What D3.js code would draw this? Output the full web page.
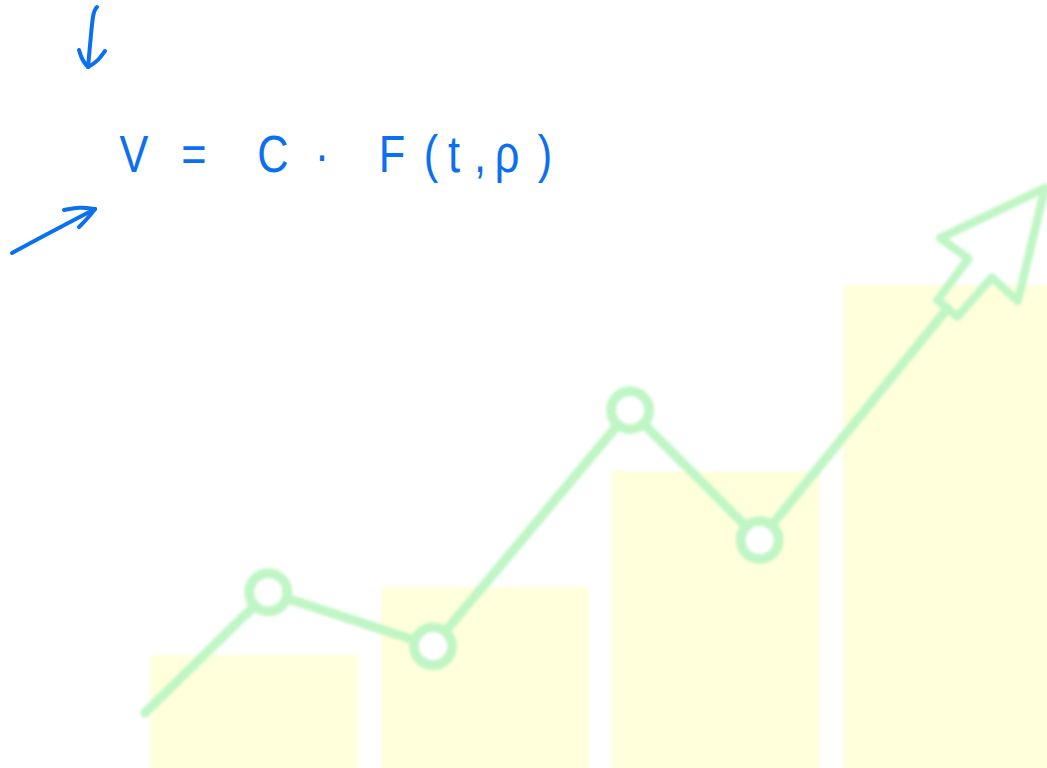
<!DOCTYPE html>
<html>
<head>
<meta charset="utf-8">
<script src="https://cdn.jsdelivr.net/npm/d3@7"></script>
<style>
  html, body { margin: 0; padding: 0; background: #ffffff; }
  svg { display: block; }
</style>
</head>
<body>
<script>
// Growth illustration: four rising bars, a trend line with markers and an arrowhead,
// and a handwritten formula above it.
const width = 1047, height = 768;

const categories = ["Q1", "Q2", "Q3", "Q4"];
const barValues = [19.5, 31.2, 51.2, 83.3];

// trend line: position along the horizontal axis and level
const trendX = [0, 1.37, 3.2, 5.39, 6.83, 10];
const trendY = [9.5, 30.3, 21.0, 61.7, 39.3, 100];

const formulaChars = ["V", "=", "C", "·", "F", "(", "t", ",", "ρ", ")"];
const formulaPos = [134, 194, 273, 322, 392, 431, 454, 480, 507, 545];

const svg = d3.select("body").append("svg")
  .attr("width", width).attr("height", height);

const defs = svg.append("defs");
defs.append("filter").attr("id", "soft")
  .attr("x", "-5%").attr("y", "-5%").attr("width", "110%").attr("height", "110%")
  .append("feGaussianBlur").attr("stdDeviation", 1.6);

const y = d3.scaleLinear().domain([0, 100]).range([768, 188]);
const xBand = d3.scaleBand().domain(categories).range([150, 1051]).paddingInner(0.1);
const xLine = d3.scaleLinear().domain([0, 10]).range([145, 1045]);

const chart = svg.append("g").attr("filter", "url(#soft)");

chart.selectAll("rect.bar").data(barValues).join("rect")
  .attr("class", "bar")
  .attr("x", (d, i) => xBand(categories[i]))
  .attr("width", xBand.bandwidth())
  .attr("y", d => y(d))
  .attr("height", d => y(0) - y(d) + 10)
  .attr("fill", "#ffffdc");

const green = "#c0f6c5";
const pts = trendX.map((v, i) => [xLine(v), y(trendY[i])]);

// arrow axis from the last marker to the tip
const tip = pts[pts.length - 1];
const prev = pts[pts.length - 2];
const len = Math.hypot(tip[0] - prev[0], tip[1] - prev[1]);
const ux = (tip[0] - prev[0]) / len, uy = (tip[1] - prev[1]) / len;
const vx = -uy, vy = ux;
const local = (u, v) => [tip[0] + u * ux + v * vx, tip[1] + u * uy + v * vy];

const shaftBase = local(-155, 0);
const linePts = pts.slice(0, -1).concat([shaftBase]);

chart.append("path")
  .attr("d", d3.line()(linePts))
  .attr("fill", "none")
  .attr("stroke", green)
  .attr("stroke-width", 9.5)
  .attr("stroke-linejoin", "round")
  .attr("stroke-linecap", "round");

// outlined arrowhead
const head = [[0, 0], [-105, -50], [-103, -15], [-155, -13], [-155, 13], [-103, 15], [-105, 50]]
  .map(([u, v]) => local(u, v));
chart.append("path")
  .attr("d", d3.line()(head) + "Z")
  .attr("fill", "#ffffff")
  .attr("fill-opacity", 0)
  .attr("stroke", green)
  .attr("stroke-width", 8.5)
  .attr("stroke-linejoin", "round");

chart.selectAll("circle.marker").data(pts.slice(1, -1)).join("circle")
  .attr("class", "marker")
  .attr("cx", d => d[0]).attr("cy", d => d[1])
  .attr("r", 19)
  .attr("fill", "#ffffff")
  .attr("stroke", green)
  .attr("stroke-width", 10);

// handwritten formula
const blue = "#0b6ff2";
const formula = svg.append("g").attr("transform", "translate(0,172)");
formula.selectAll("text").data(formulaChars).join("text")
  .attr("x", (d, i) => formulaPos[i])
  .attr("y", 0)
  .attr("text-anchor", "middle")
  .attr("font-family", "'Liberation Sans', 'DejaVu Sans', sans-serif")
  .attr("font-size", 51)
  .attr("fill", blue)
  .attr("transform", (d, i) => `translate(${formulaPos[i]},0) scale(0.85,1) translate(${-formulaPos[i]},0)`)
  .text(d => d);

// hand-drawn pointer arrows
const pen = svg.append("g")
  .attr("fill", "none")
  .attr("stroke", blue)
  .attr("stroke-width", 4)
  .attr("stroke-linecap", "round")
  .attr("stroke-linejoin", "round");
const curve = d3.line().curve(d3.curveBasis);
pen.append("path").attr("d", curve([[97, 7], [93, 12], [91, 35], [88, 67]]));
pen.append("path").attr("d", curve([[79, 50], [82, 60], [88, 67]]));
pen.append("path").attr("d", curve([[88, 67], [98, 61], [105, 51]]));
pen.append("path").attr("d", curve([[12, 253], [45, 235], [78, 218], [95, 209]]));
pen.append("path").attr("d", curve([[64, 210], [80, 207], [95, 209]]));
pen.append("path").attr("d", curve([[95, 209], [88, 218], [79, 227]]));
</script>
</body>
</html>
